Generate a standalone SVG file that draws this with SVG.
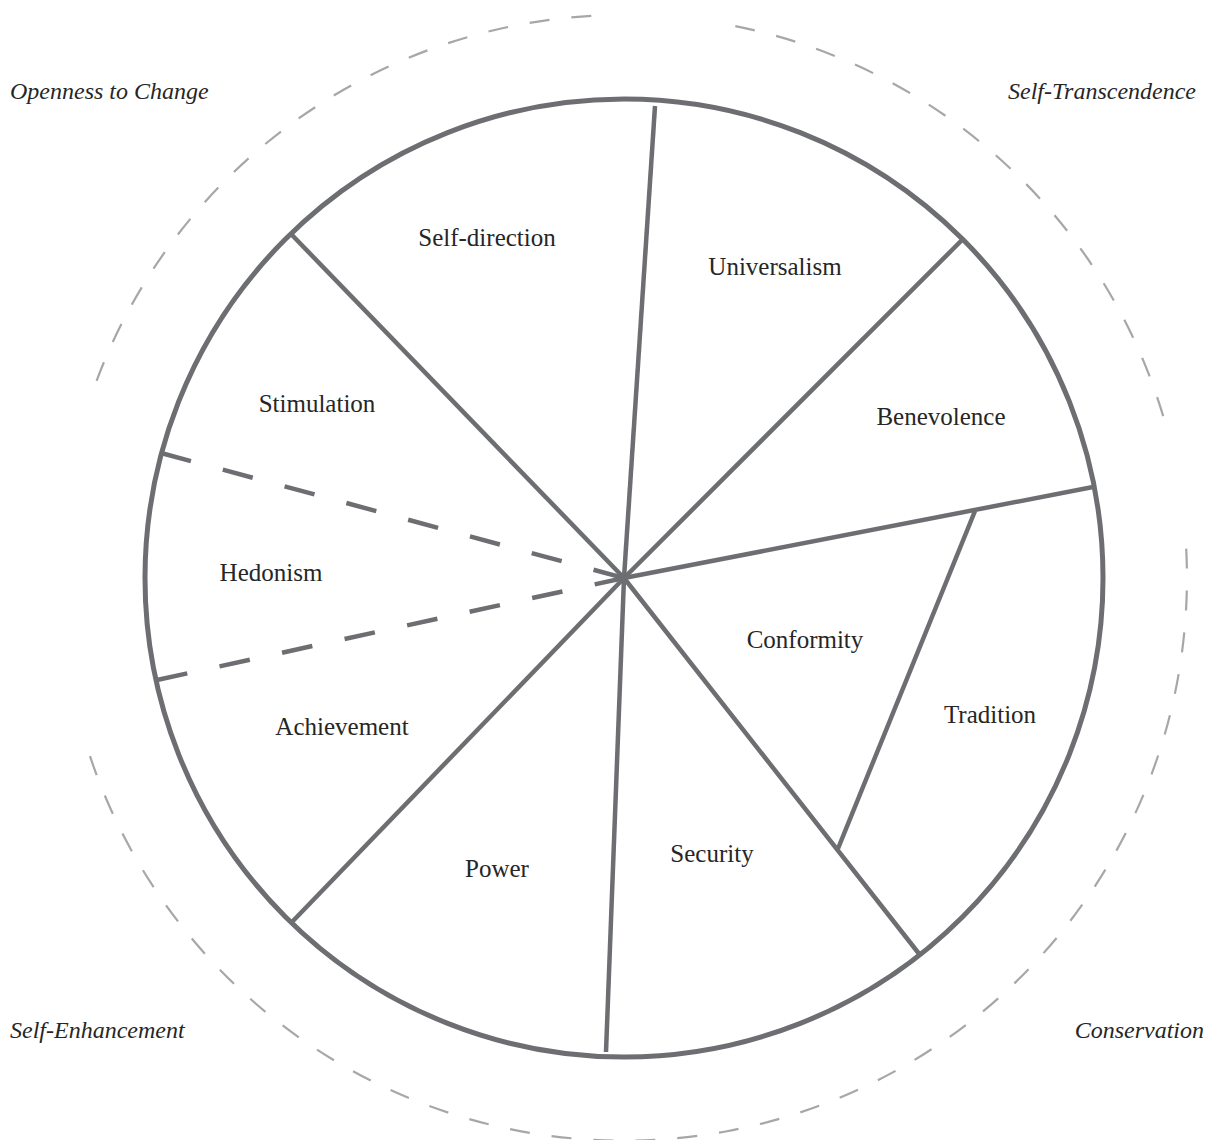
<svg xmlns="http://www.w3.org/2000/svg" width="1213" height="1140" viewBox="0 0 1213 1140">
  <style>
    .ring { fill: none; stroke: #6d6e71; stroke-width: 5; }
    .spoke { stroke: #6d6e71; stroke-width: 4.5; stroke-linecap: butt; fill: none; }
    .spoke.dash { stroke-dasharray: 31 33; }
    .outer { fill: none; stroke: #a7a7a9; stroke-width: 2.2; stroke-dasharray: 20 22; }
    .value { font-family: "Liberation Serif", "Times New Roman", serif; font-size: 25px; fill: #262626; text-anchor: middle; }
    .dim { font-family: "Liberation Serif", "Times New Roman", serif; font-size: 24px; font-style: italic; fill: #262626; }
  </style>

  <rect width="1213" height="1140" fill="#ffffff"/>

  <!-- outer dashed ring, split into three arcs around the higher-order labels -->
  <g id="outer-ring">
    <path class="outer" d="M 96.6 380.8 A 563 563 0 0 1 602.4 15.4"/>
    <path class="outer" d="M 735.3 26.1 A 563 563 0 0 1 1163.5 417.2"/>
    <path class="outer" d="M 1186.2 548.6 A 563 563 0 0 1 88.9 752.9"/>
  </g>

  <!-- main wheel -->
  <g id="wheel">
    <circle class="ring" cx="624" cy="578" r="479"/>
  </g>

  <!-- sector dividers -->
  <g id="connectors">
    <line class="spoke" x1="624" y1="578" x2="655" y2="106"/>
    <line class="spoke" x1="624" y1="578" x2="292" y2="235"/>
    <line class="spoke" x1="624" y1="578" x2="962" y2="240"/>
    <line class="spoke" x1="624" y1="578" x2="1093" y2="487"/>
    <line class="spoke" x1="624" y1="578" x2="920" y2="955"/>
    <line class="spoke" x1="624" y1="578" x2="606" y2="1052"/>
    <line class="spoke" x1="624" y1="578" x2="292" y2="922"/>
    <line class="spoke" x1="975" y1="511" x2="837" y2="851"/>
    <line class="spoke dash" x1="161" y1="453" x2="624" y2="578"/>
    <line class="spoke dash" x1="157" y1="680" x2="624" y2="578"/>
  </g>

  <!-- value sectors -->
  <g id="self-direction"><text class="value" x="487" y="246">Self-direction</text></g>
  <g id="universalism"><text class="value" x="775" y="275">Universalism</text></g>
  <g id="stimulation"><text class="value" x="317" y="412">Stimulation</text></g>
  <g id="benevolence"><text class="value" x="941" y="425">Benevolence</text></g>
  <g id="hedonism"><text class="value" x="271" y="581">Hedonism</text></g>
  <g id="conformity"><text class="value" x="805" y="648">Conformity</text></g>
  <g id="achievement"><text class="value" x="342" y="735">Achievement</text></g>
  <g id="tradition"><text class="value" x="990" y="723">Tradition</text></g>
  <g id="power"><text class="value" x="497" y="877">Power</text></g>
  <g id="security"><text class="value" x="712" y="862">Security</text></g>

  <!-- higher-order dimensions -->
  <g id="openness-to-change"><text class="dim" x="10" y="99">Openness to Change</text></g>
  <g id="self-transcendence"><text class="dim" x="1196" y="99" text-anchor="end">Self-Transcendence</text></g>
  <g id="self-enhancement"><text class="dim" x="10" y="1038">Self-Enhancement</text></g>
  <g id="conservation"><text class="dim" x="1204" y="1038" text-anchor="end">Conservation</text></g>
</svg>
